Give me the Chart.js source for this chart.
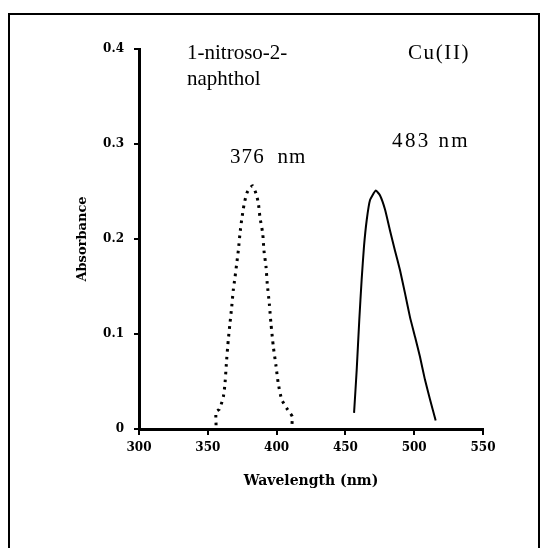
<!DOCTYPE html>
<html>
<head>
<meta charset="utf-8">
<script src="https://cdn.jsdelivr.net/npm/chart.js@4/dist/chart.umd.min.js"></script>
<style>
  body { margin: 0; background: #fff; overflow: hidden; width: 542px; height: 548px; }
  #frame { position: absolute; left: 8px; top: 13px; width: 528px; height: 600px; border: 2px solid #000; }
  #chart { position: absolute; left: 0; top: 0; }
</style>
</head>
<body>
<div id="frame"></div>
<canvas id="chart" width="542" height="548"></canvas>
<script>
// 1-nitroso-2-naphthol (dotted)
const ligandWavelength = [356, 356, 358.5, 361.3, 362.5, 363.7, 364.9, 366.1, 367.4, 368.5, 369.8, 371, 372.2, 373.4, 374.6, 376.3, 378.3, 380.2, 382.6, 385, 386.7, 387.9, 389.9, 390.8, 392.3, 393.2, 394.7, 395.9, 397.6, 399.6, 401.2, 403.7, 407.3, 409.7, 411.4, 411];
const ligandAbs = [0.004, 0.018, 0.021, 0.034, 0.048, 0.073, 0.094, 0.111, 0.129, 0.146, 0.160, 0.174, 0.188, 0.206, 0.220, 0.236, 0.248, 0.253, 0.256, 0.248, 0.238, 0.223, 0.206, 0.188, 0.171, 0.153, 0.132, 0.111, 0.087, 0.066, 0.048, 0.031, 0.022, 0.017, 0.013, 0.002];

// Cu(II) complex (solid)
const complexWavelength = [456.3, 458.2, 460.1, 461.8, 463.5, 465.5, 467.9, 472, 475.1, 478.8, 482.4, 486, 489.7, 493.3, 496.9, 500.6, 504.2, 507.8, 511.5, 515.6];
const complexAbs = [0.017, 0.062, 0.115, 0.157, 0.192, 0.220, 0.241, 0.251, 0.246, 0.231, 0.209, 0.188, 0.167, 0.143, 0.118, 0.097, 0.076, 0.052, 0.031, 0.009];

const xTicks = [300, 350, 400, 450, 500, 550];
const yTicks = [0, 0.1, 0.2, 0.3, 0.4];

// text labels placed in data coordinates (left edge, baseline)
const notes = [
  { text: '1-nitroso-2-', x: 334.9, y: 0.390, spacing: 0 },
  { text: 'naphthol', x: 334.9, y: 0.3626, spacing: 0 },
  { text: 'Cu(II)', x: 495.5, y: 0.390, spacing: 1.6 },
  { text: '483 nm', x: 483.9, y: 0.297, spacing: 2.4 },
  { text: '376  nm', x: 366.1, y: 0.2805, spacing: 1.1 }
];

const toPoints = (xs, ys) => xs.map((x, i) => ({ x: x, y: ys[i] }));

const notePlugin = {
  id: 'notes',
  afterDatasetsDraw(chart) {
    const ctx = chart.ctx;
    const xs = chart.scales.x, ys = chart.scales.y;
    ctx.save();
    ctx.fillStyle = '#000';
    ctx.font = '21px "Liberation Serif"';
    ctx.textAlign = 'left';
    ctx.textBaseline = 'alphabetic';
    notes.forEach(n => {
      ctx.letterSpacing = n.spacing + 'px';
      ctx.fillText(n.text, xs.getPixelForValue(n.x), ys.getPixelForValue(n.y));
    });
    ctx.restore();
  }
};

const tickFont = { family: 'DejaVu Serif', weight: 'bold', size: 12 };

new Chart(document.getElementById('chart').getContext('2d'), {
  type: 'line',
  data: {
    datasets: [
      {
        label: '1-nitroso-2-naphthol',
        data: toPoints(ligandWavelength, ligandAbs),
        borderColor: '#000',
        borderWidth: 3,
        borderDash: [2.6, 5],
        tension: 0.2,
        pointRadius: 0,
        fill: false
      },
      {
        label: 'Cu(II)',
        data: toPoints(complexWavelength, complexAbs),
        borderColor: '#000',
        borderWidth: 2,
        tension: 0.15,
        pointRadius: 0,
        fill: false
      }
    ]
  },
  options: {
    responsive: false,
    animation: false,
    layout: { padding: { left: 71, top: 49, right: 59, bottom: 54 } },
    plugins: { legend: { display: false }, tooltip: { enabled: false } },
    scales: {
      x: {
        type: 'linear',
        min: 300,
        max: 550,
        afterBuildTicks: s => { s.ticks = xTicks.map(v => ({ value: v })); },
        afterFit: s => { s.height = 65; },
        ticks: { color: '#000', font: tickFont, padding: 6, maxRotation: 0 },
        grid: { drawOnChartArea: false, tickLength: 6, color: '#000', lineWidth: 2 },
        border: { color: '#000', width: 3 },
        title: { display: true, text: 'Wavelength (nm)', color: '#000', padding: 4,
                 font: { family: 'DejaVu Serif', weight: 'bold', size: 14 } }
      },
      y: {
        type: 'linear',
        min: 0,
        max: 0.4,
        afterBuildTicks: s => { s.ticks = yTicks.map(v => ({ value: v })); },
        afterFit: s => { s.width = 68; },
        ticks: { color: '#000', font: tickFont, padding: 10 },
        grid: { drawOnChartArea: false, tickLength: 5, color: '#000', lineWidth: 2 },
        border: { color: '#000', width: 3 },
        title: { display: true, text: 'Absorbance', color: '#000', padding: 4,
                 font: { family: 'DejaVu Serif', weight: 'bold', size: 13 } }
      }
    }
  },
  plugins: [notePlugin]
});
</script>
</body>
</html>
